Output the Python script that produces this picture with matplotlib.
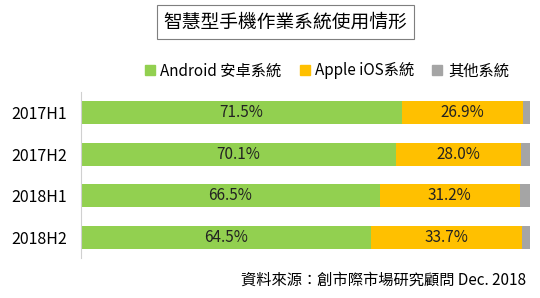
import matplotlib
matplotlib.use("Agg")
import matplotlib.pyplot as plt
from matplotlib.lines import Line2D

plt.rcParams['font.family'] = ['Noto Sans CJK TC', 'DejaVu Sans']

categories = ["2017H1", "2017H2", "2018H1", "2018H2"]
android = [71.5, 70.1, 66.5, 64.5]
ios = [26.9, 28.0, 31.2, 33.7]
other = [1.6, 1.9, 2.3, 1.8]
series_names = ["Android 安卓系統", "Apple iOS系統", "其他系統"]
colors = ["#92D050", "#FFC000", "#A5A5A5"]

fig = plt.figure(figsize=(5.4, 2.98), dpi=100)
ax = fig.add_axes([0.15, 0.134, 0.8315, 0.557])

y = list(range(len(categories)))
left = [0] * len(categories)
for vals, c in zip([android, ios, other], colors):
    ax.barh(y, vals, left=left, height=0.55, color=c)
    left = [l + v for l, v in zip(left, vals)]

for i in range(len(categories)):
    ax.text(android[i] / 2, y[i], f"{android[i]:.1f}%", ha='center', va='center', fontsize=11, color='#222222')
    ax.text(android[i] + ios[i] / 2, y[i], f"{ios[i]:.1f}%", ha='center', va='center', fontsize=11, color='#222222')

ax.set_xlim(0, 100)
ax.set_ylim(len(categories) - 0.5, -0.5)
ax.set_yticks(y)
ax.set_yticklabels(categories, fontsize=11.5)
ax.set_xticks([])
for s in ['top', 'right', 'bottom']:
    ax.spines[s].set_visible(False)
ax.spines['left'].set_color('#D0D0D0')
ax.tick_params(axis='y', length=0, pad=10)

handles = [Line2D([], [], marker='s', linestyle='none', markersize=7, markerfacecolor=c, markeredgecolor=c) for c in colors]
fig.legend(handles, series_names, loc='center', bbox_to_anchor=(0.603, 0.762), ncol=3, frameon=False,
           fontsize=11, handletextpad=0.2, columnspacing=1.0, handlelength=1.0)

fig.text(0.528, 0.925, "智慧型手機作業系統使用情形", ha='center', va='center', fontsize=13.5,
         bbox=dict(boxstyle='square,pad=0.35', facecolor='white', edgecolor='#7F7F7F', linewidth=0.8))

fig.text(0.975, 0.06, "資料來源：創市際市場研究顧問 Dec. 2018", ha='right', va='center', fontsize=11)

fig.savefig("out.png", dpi=100)
